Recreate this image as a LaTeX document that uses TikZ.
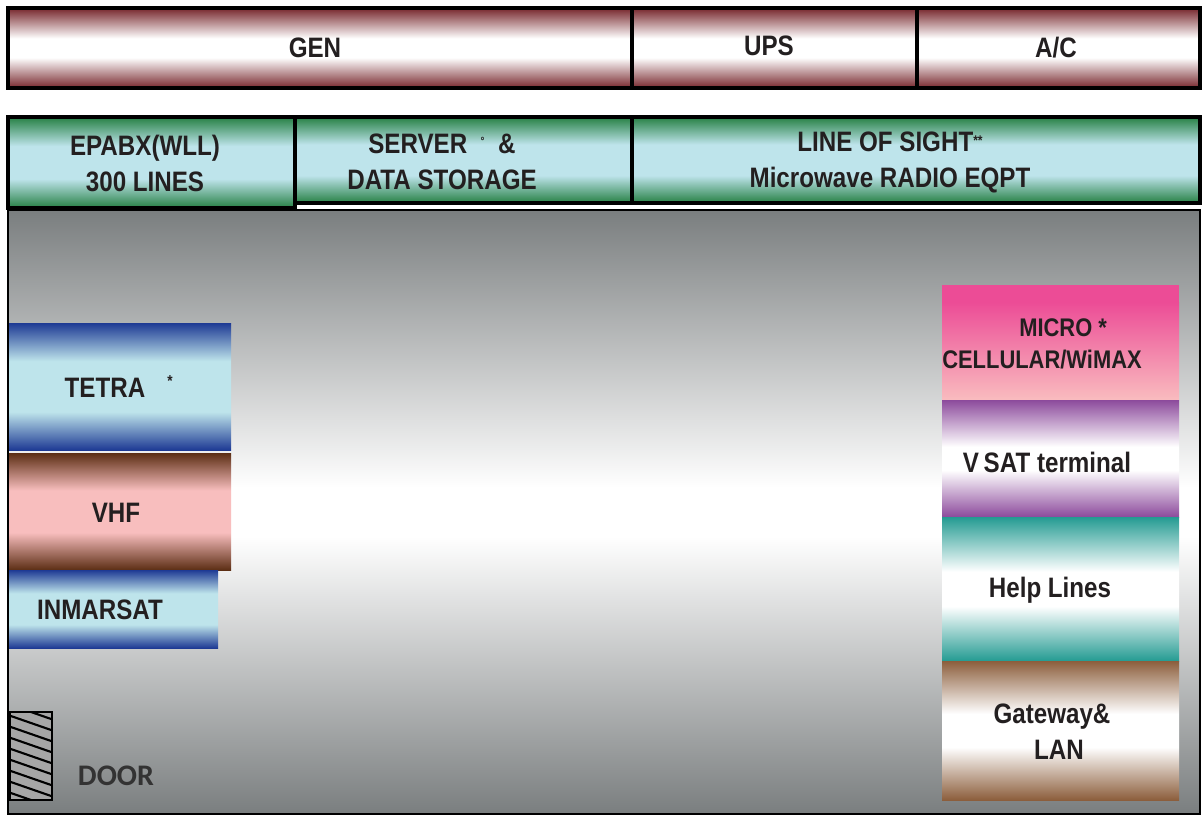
\documentclass[tikz,border=0pt]{standalone}
\usepackage{fontspec}
\setmainfont{Liberation Sans}[FakeStretch=0.86]
\newfontfamily\doorfont{Carlito}
\definecolor{txt}{RGB}{35,31,32}
\definecolor{genred}{RGB}{118,38,44}
\definecolor{rackgreen}{RGB}{38,128,68}
\definecolor{palecyan}{RGB}{190,228,235}
\definecolor{radioblue}{RGB}{30,58,148}
\definecolor{vhfbrown}{RGB}{92,46,20}
\definecolor{vhfpink}{RGB}{248,190,190}
\definecolor{micropink}{RGB}{236,76,150}
\definecolor{lightpink}{RGB}{249,188,191}
\definecolor{vsatpurple}{RGB}{140,74,156}
\definecolor{helpteal}{RGB}{36,155,146}
\definecolor{gatebrown}{RGB}{140,94,60}
\definecolor{roomgray}{RGB}{122,126,127}
% bands: edge colour at top and bottom, flat middle (path maps to 25bp..75bp)
\newcommand\mkband[5]{\pgfdeclareverticalshading{#1}{100bp}{color(0bp)=(#2); color(25bp)=(#2); color(#4bp)=(#3); color(#5bp)=(#3); color(75bp)=(#2); color(100bp)=(#2)}}
\begin{document}
\mkband{genband}{genred}{white}{44}{56}
\mkband{rackband}{rackgreen}{palecyan}{41}{59}
\mkband{blueband}{radioblue}{palecyan}{40}{60}
\mkband{vhfband}{vhfbrown}{vhfpink}{41}{59}
\mkband{vsatband}{vsatpurple}{white}{45}{55}
\mkband{helpband}{helpteal}{white}{44}{56}
\mkband{gateband}{gatebrown}{white}{44}{56}
\mkband{roomband}{roomgray}{white}{48}{52}
\begin{tikzpicture}[x=0.02cm,y=0.02cm,
  lbl/.style={font=\bfseries\fontsize{16}{20.5}\selectfont,text=txt,align=center},
  frame/.style={draw=black,line width=2pt}]
\useasboundingbox (0,0) rectangle (1203,816);
% Power row: GEN, UPS and A/C
\shade[shading=genband] (8,728) rectangle (1200,808);
\draw[frame] (8,728) rectangle (1200,808);
\draw[frame] (632,728) -- (632,808);
\draw[frame] (917,728) -- (917,808);
\node[lbl] (gen) at (315,768) {GEN};
\node[lbl] (ups) at (769,770) {UPS};
\node[lbl] (ac) at (1056,768) {A/C};
% Equipment row
\shade[shading=rackband] (8,608) rectangle (295,699);
\shade[shading=rackband] (295,613) rectangle (1200,699);
\draw[frame] (8,608) rectangle (295,699);
\draw[frame] (295,613) rectangle (632,699);
\draw[frame] (632,613) rectangle (1200,699);
\node[lbl] (epabx) at (145,653) {EPABX(WLL)\\300 LINES};
\node[lbl] (server) at (442,654) {SERVER\ \ {\footnotesize\raisebox{3pt}{˚}}\ \ \&\\DATA STORAGE};
\node[lbl] (los) at (890,654) {LINE OF SIGHT{\footnotesize\raisebox{3pt}{**}}\\Microwave RADIO EQPT};
% Room floor
\shade[shading=roomband] (8,2) rectangle (1200,606);
% Left wall racks
\shade[shading=blueband] (9,366) rectangle (231,493);
\shade[shading=vhfband] (9,246) rectangle (231,363);
\shade[shading=blueband] (9,168) rectangle (218,246);
\node[lbl] (tetra) at (105,428) {TETRA};
\node[font=\bfseries\small,text=txt] (tetrastar) at (170,435) {*};
\node[lbl] (vhf) at (116,303) {VHF};
\node[lbl] (inmarsat) at (100,206) {INMARSAT};
% Right wall racks
\fill[micropink] (942,514) rectangle (1179,531);
\shade[top color=micropink,bottom color=lightpink] (942,416) rectangle (1179,514);
\shade[shading=vsatband] (942,299) rectangle (1179,416);
\shade[shading=helpband] (942,155) rectangle (1179,299);
\shade[shading=gateband] (942,16) rectangle (1179,155);
\node[lbl,font=\bfseries\fontsize{14.5}{18}\selectfont] (micro) at (1042,472) {\hspace*{24pt}MICRO *\\CELLULAR/WiMAX};
\node[lbl] (vsat) at (1047,354) {V\,SAT terminal};
\node[lbl] (help) at (1050,226) {Help Lines};
\node[lbl] (gateway) at (1052,84) {Gateway\&\\\hspace*{8pt}LAN};
% Door
\begin{scope}
  \clip (10,16) rectangle (52,104);
  \fill[gray!70] (10,16) rectangle (52,104);
  \foreach \i in {0,...,11}
    \draw[line width=1.2pt] (8,{112-\i*11}) -- ++(46,-16);
\end{scope}
\draw[line width=1.2pt] (10,16) rectangle (52,104);
\node[font=\doorfont\bfseries\fontsize{17}{20}\selectfont,text=black!80] (door) at (116,40) {DOOR};
% Room walls
\draw[line width=1.6pt] (8,2) rectangle (1200,606);
\end{tikzpicture}
\end{document}
